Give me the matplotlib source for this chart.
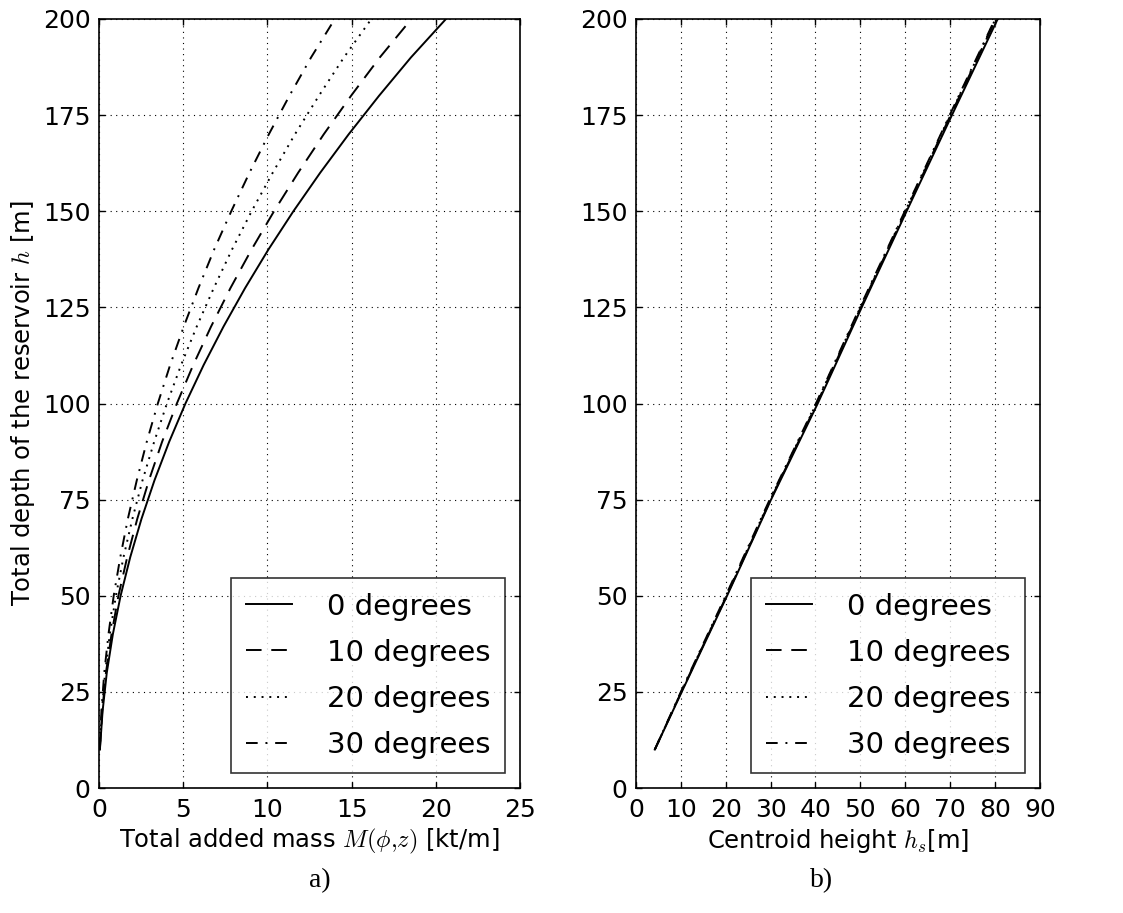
import matplotlib
matplotlib.use("Agg")
import matplotlib.pyplot as plt

# ---------------- data ----------------
depth_h = [10, 20, 30, 40, 50, 60, 70, 80, 90, 100, 110, 120, 130, 140, 150, 160, 170, 180, 190, 200]

mass_0 = [0.05, 0.21, 0.46, 0.82, 1.28, 1.85, 2.52, 3.29, 4.16, 5.13, 6.21, 7.39, 8.67, 10.05, 11.54, 13.13, 14.82, 16.62, 18.52, 20.6]
mass_10 = [0.045, 0.19, 0.41, 0.74, 1.15, 1.67, 2.27, 2.96, 3.74, 4.62, 5.59, 6.65, 7.8, 9.05, 10.39, 11.82, 13.34, 14.96, 16.67, 18.55]
mass_20 = [0.04, 0.165, 0.36, 0.64, 1.0, 1.45, 1.98, 2.58, 3.27, 4.03, 4.87, 5.8, 6.81, 7.89, 9.06, 10.31, 11.63, 13.05, 14.54, 16.17]
mass_30 = [0.034, 0.14, 0.31, 0.56, 0.87, 1.26, 1.71, 2.24, 2.83, 3.49, 4.22, 5.03, 5.9, 6.83, 7.85, 8.93, 10.08, 11.3, 12.59, 14.0]

depth_c = [10, 25, 50, 75, 100, 125, 150, 175, 200]
centroid_0 = [4.2, 10.2, 20.3, 30.1, 40.5, 50.3, 60.3, 70.4, 80.6]
centroid_10 = [4.2, 10.1, 20.2, 30.0, 40.3, 50.1, 60.1, 70.1, 80.2]
centroid_20 = [4.2, 10.1, 20.1, 29.9, 40.2, 50.0, 60.0, 70.0, 80.1]
centroid_30 = [4.2, 10.0, 20.0, 29.8, 40.1, 49.9, 59.9, 69.9, 80.0]

labels = ["0 degrees", "10 degrees", "20 degrees", "30 degrees"]
left_xticks = [0, 5, 10, 15, 20, 25]
right_xticks = [0, 10, 20, 30, 40, 50, 60, 70, 80, 90]
yticks = [0, 25, 50, 75, 100, 125, 150, 175, 200]

# ---------------- style ----------------
plt.rcParams["font.family"] = ["DejaVu Sans"]
plt.rcParams["mathtext.fontset"] = "cm"
plt.rcParams["xtick.direction"] = "in"
plt.rcParams["ytick.direction"] = "in"
plt.rcParams["xtick.top"] = True
plt.rcParams["ytick.right"] = True
plt.rcParams["xtick.major.size"] = 4
plt.rcParams["ytick.major.size"] = 4
plt.rcParams["xtick.major.pad"] = 7
plt.rcParams["ytick.major.pad"] = 6
plt.rcParams["axes.linewidth"] = 1.2

lw = 1.4
styles = ["-", (0, (8, 5)), (0, (1, 3)), (0, (6, 4, 1, 4))]

fig = plt.figure(figsize=(11.23, 9.13), dpi=100)
fig.patch.set_facecolor("white")

ax1 = fig.add_axes([0.0882, 0.1369, 0.3749, 0.8423])
ax2 = fig.add_axes([0.5663, 0.1369, 0.3597, 0.8423])

for m, ls, lab in zip([mass_0, mass_10, mass_20, mass_30], styles, labels):
    ax1.plot(m, depth_h, color="black", lw=lw, linestyle=ls, label=lab)
for c, ls, lab in zip([centroid_0, centroid_10, centroid_20, centroid_30], styles, labels):
    ax2.plot(c, depth_c, color="black", lw=lw, linestyle=ls, label=lab)

ax1.set_xlim(0, 25)
ax2.set_xlim(0, 90)
for ax, xt in [(ax1, left_xticks), (ax2, right_xticks)]:
    ax.set_ylim(0, 200)
    ax.set_xticks(xt)
    ax.set_yticks(yticks)
    ax.tick_params(labelsize=18, width=1.0)
    ax.grid(True, color="black", linestyle=(0, (1, 4)), linewidth=0.8)
    leg = ax.legend(loc="lower right", fontsize=21, frameon=True, fancybox=False,
                    edgecolor="black", handlelength=1.6, handletextpad=1.2,
                    labelspacing=0.62, borderpad=0.5, borderaxespad=0.5)
    leg.get_frame().set_linewidth(1.2)

ax1.set_xlabel(r"Total added mass $M(\phi{,}z)$ [kt/m]", fontsize=17.5, labelpad=4)
ax1.set_ylabel(r"Total depth of the reservoir $h$ [m]", fontsize=17.5, labelpad=4)
ax2.set_xlabel(r"Centroid height $h_s$[m]", fontsize=17.5, labelpad=4)

fig.text(0.285, 0.036, "a)", fontsize=20, family="Liberation Serif", ha="center", va="center")
fig.text(0.732, 0.036, "b)", fontsize=20, family="Liberation Serif", ha="center", va="center")

fig.savefig("out.png", dpi=100, facecolor="white")
